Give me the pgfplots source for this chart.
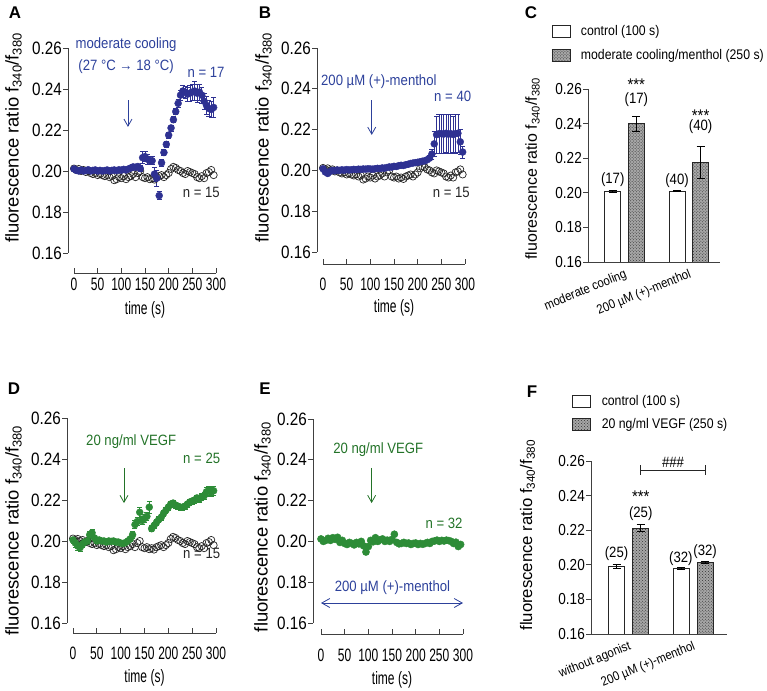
\documentclass[border=0pt]{standalone}
\usepackage{pgfplots}
\pgfplotsset{compat=1.18}
\usepackage{pgfplotstable}
\usepackage{fontspec}
\setmainfont{Liberation Sans}
\newfontfamily\fTick{Liberation Sans}[FakeStretch=0.85]
\newfontfamily\fX{Liberation Sans}[FakeStretch=0.67]
\newfontfamily\fAnn{Liberation Sans}[FakeStretch=0.88]
\usetikzlibrary{arrows.meta,patterns}
\definecolor{mblue}{RGB}{46,49,146}
\definecolor{tblue}{RGB}{45,65,155}
\definecolor{mgreen}{RGB}{45,140,55}
\definecolor{tgreen}{RGB}{35,115,40}
\newcommand\ftick{\fTick\fontsize{18}{20}\selectfont}
\newcommand\fxt{\fX\fontsize{18}{20}\selectfont}
\newcommand\flab{\fontsize{18.5}{20}\selectfont}
\newcommand\fann{\fAnn\fontsize{15}{17}\selectfont}
\newcommand\fbtick{\fTick\fontsize{16}{18}\selectfont}
\newcommand\fblab{\fontsize{16}{18}\selectfont}
\newcommand\fleg{\fAnn\fontsize{14}{16}\selectfont}
\newcommand\fcat{\fAnn\fontsize{13}{15}\selectfont}
\tikzset{ann/.style={font=\fann, inner sep=0pt}}

\pgfplotstableread{
t v
0 0.2012
5 0.2005
10 0.2010
15 0.2000
20 0.2005
25 0.1995
30 0.2000
35 0.1990
40 0.1985
45 0.1990
50 0.1980
55 0.1985
60 0.1980
65 0.1975
70 0.1980
75 0.1970
80 0.1975
85 0.1955
90 0.1960
95 0.1970
100 0.1965
105 0.1975
110 0.1960
115 0.1970
120 0.1975
125 0.1985
130 0.1970
135 0.1990
140 0.2000
145 0.1970
150 0.1965
155 0.1970
160 0.1960
165 0.1965
170 0.1958
175 0.1970
180 0.1975
185 0.1980
190 0.1970
195 0.1980
200 0.1990
205 0.2010
210 0.2020
215 0.2015
220 0.2005
225 0.2000
230 0.1990
235 0.1985
240 0.2000
245 0.1995
250 0.1990
255 0.1985
260 0.1970
265 0.1965
270 0.1975
275 0.1965
280 0.1990
285 0.1995
290 0.2005
295 0.1980
}\ctrl

\pgfplotstableread{
t v e
0 0.2010 0.0008
5 0.2003 0.0008
10 0.2000 0.0008
15 0.2005 0.0008
20 0.2000 0.0008
25 0.2002 0.0008
30 0.2006 0.0008
35 0.2000 0.0008
40 0.2003 0.0008
45 0.2005 0.0008
50 0.2000 0.0008
55 0.2003 0.0008
60 0.2000 0.0008
65 0.2002 0.0008
70 0.2005 0.0008
75 0.2000 0.0008
80 0.2003 0.0008
85 0.2005 0.0008
90 0.2002 0.0008
95 0.2006 0.0008
100 0.2004 0.0008
105 0.2008 0.0008
110 0.2005 0.0008
115 0.2010 0.0010
120 0.2015 0.0010
125 0.2020 0.0010
130 0.2018 0.0010
135 0.2022 0.0012
140 0.2012 0.0015
145 0.2065 0.0030
150 0.2070 0.0025
155 0.2058 0.0025
160 0.2050 0.0020
165 0.2050 0.0020
170 0.1985 0.0035
175 0.1965 0.0040
180 0.1880 0.0020
185 0.2040 0.0015
190 0.2090 0.0015
195 0.2130 0.0015
200 0.2175 0.0015
205 0.2210 0.0015
210 0.2250 0.0015
215 0.2290 0.0015
220 0.2330 0.0020
225 0.2370 0.0025
230 0.2390 0.0030
235 0.2385 0.0030
240 0.2375 0.0035
245 0.2380 0.0040
250 0.2385 0.0040
255 0.2390 0.0045
260 0.2380 0.0045
265 0.2385 0.0040
270 0.2370 0.0040
275 0.2340 0.0040
280 0.2320 0.0045
285 0.2305 0.0040
290 0.2300 0.0040
295 0.2310 0.0050
}\cool

\pgfplotstableread{
t v e
0 0.2008 0.0008
5 0.1992 0.0008
10 0.1985 0.0008
15 0.1995 0.0008
20 0.2000 0.0006
25 0.1998 0.0006
30 0.2002 0.0006
35 0.2000 0.0006
40 0.2003 0.0006
45 0.2001 0.0006
50 0.2004 0.0006
55 0.2002 0.0006
60 0.2003 0.0006
65 0.2005 0.0006
70 0.2004 0.0006
75 0.2006 0.0006
80 0.2005 0.0006
85 0.2007 0.0006
90 0.2006 0.0006
95 0.2008 0.0006
100 0.2007 0.0006
105 0.2006 0.0006
110 0.2008 0.0006
115 0.2010 0.0006
120 0.2009 0.0006
125 0.2012 0.0006
130 0.2011 0.0006
135 0.2014 0.0007
140 0.2017 0.0007
145 0.2016 0.0007
150 0.2020 0.0007
155 0.2019 0.0007
160 0.2023 0.0007
165 0.2025 0.0007
170 0.2024 0.0008
175 0.2028 0.0008
180 0.2030 0.0008
185 0.2034 0.0008
190 0.2036 0.0008
195 0.2038 0.0008
200 0.2040 0.0008
205 0.2042 0.0008
210 0.2045 0.0009
215 0.2047 0.0009
220 0.2052 0.0010
225 0.2060 0.0012
230 0.2080 0.0025
235 0.2130 0.0060
240 0.2175 0.0090
245 0.2180 0.0095
250 0.2180 0.0095
255 0.2178 0.0095
260 0.2182 0.0095
265 0.2178 0.0095
270 0.2180 0.0095
275 0.2176 0.0090
280 0.2180 0.0095
285 0.2182 0.0095
290 0.2140 0.0060
295 0.2090 0.0030
}\menth

\pgfplotstableread{
t v e
0 0.2005 0.0015
5 0.1990 0.0020
10 0.1975 0.0020
15 0.1968 0.0020
20 0.1985 0.0018
25 0.1995 0.0015
30 0.2000 0.0015
35 0.2030 0.0015
40 0.2040 0.0015
45 0.2015 0.0012
50 0.2000 0.0012
55 0.2005 0.0012
60 0.2000 0.0012
65 0.2000 0.0010
70 0.1995 0.0010
75 0.2000 0.0010
80 0.1998 0.0010
85 0.2000 0.0010
90 0.1995 0.0010
95 0.1995 0.0010
100 0.1990 0.0010
105 0.1988 0.0010
110 0.1992 0.0010
115 0.2000 0.0010
120 0.2010 0.0012
125 0.2030 0.0015
130 0.2080 0.0020
135 0.2095 0.0020
140 0.2140 0.0025
145 0.2100 0.0020
150 0.2110 0.0020
155 0.2120 0.0020
160 0.2165 0.0030
165 0.2060 0.0015
170 0.2075 0.0015
175 0.2090 0.0015
180 0.2105 0.0015
185 0.2115 0.0015
190 0.2135 0.0015
195 0.2150 0.0015
200 0.2165 0.0015
205 0.2180 0.0015
210 0.2185 0.0015
215 0.2175 0.0015
220 0.2170 0.0015
225 0.2165 0.0015
230 0.2165 0.0015
235 0.2170 0.0015
240 0.2180 0.0015
245 0.2190 0.0015
250 0.2195 0.0015
255 0.2200 0.0015
260 0.2210 0.0015
265 0.2205 0.0015
270 0.2215 0.0015
275 0.2220 0.0015
280 0.2240 0.0020
285 0.2245 0.0020
290 0.2240 0.0020
295 0.2245 0.0020
}\vegf

\pgfplotstableread{
t v
0 0.2012
5 0.2000
10 0.2005
15 0.2015
20 0.2005
25 0.2018
30 0.2010
35 0.2020
40 0.1995
45 0.2005
50 0.1990
55 0.1985
60 0.1995
65 0.1990
70 0.1983
75 0.1995
80 0.1988
85 0.2000
90 0.1978
95 0.1948
100 0.1975
105 0.2005
110 0.1998
115 0.2018
120 0.2000
125 0.2008
130 0.2012
135 0.2000
140 0.2006
145 0.2000
150 0.2010
155 0.2035
160 0.1995
165 0.1988
170 0.1990
175 0.1995
180 0.1990
185 0.1992
190 0.1985
195 0.1990
200 0.1992
205 0.1985
210 0.1990
215 0.1986
220 0.1990
225 0.1995
230 0.1990
235 0.2000
240 0.2002
245 0.2006
250 0.2000
255 0.2005
260 0.2002
265 0.2006
270 0.2004
275 0.2000
280 0.1990
285 0.1996
290 0.1975
295 0.1985
}\vegfm

\pgfplotsset{
  trace/.style={
    scale only axis, anchor=south west, clip=false,
    xmax=300, ymin=0.16, ymax=0.26,
    axis x line=none, axis y line=left,
    axis line style={-, line width=0.9bp, black!75},
    tick style={line width=0.9bp, black!75},
    tick align=outside, major tick length=5bp,
    ytick={0.16,0.18,0.20,0.22,0.24,0.26},
    yticklabels={0.16,0.18,0.20,0.22,0.24,0.26},
    yticklabel style={font=\ftick, inner sep=1bp},
    ylabel={fluorescence ratio f\textsubscript{340}/f\textsubscript{380}},
    ylabel style={font=\flab, anchor=center},
  },
  timeaxis/.style={
    scale only axis, anchor=south west, height=1bp,
    xmin=0, xmax=300, ymin=0, ymax=1,
    axis y line=none, axis x line=bottom,
    axis line style={-, line width=0.9bp, black!75},
    tick style={line width=0.9bp, black!75},
    tick align=inside, major tick length=5bp,
    xtick={0,50,100,150,200,250,300},
    xticklabels={0,50,100,150,200,250,300},
    xticklabel style={font=\fxt, inner sep=0pt, anchor=north, yshift=-#1},
    xlabel={time (s)},
    xlabel style={font=\fxt, anchor=center, at={(rel axis cs:0.5,0)}},
  },
  ctrlst/.style={only marks, mark=o, mark size=3.6bp, mark options={fill=white, draw=black!85, line width=0.7bp}},
  errst/.style={
    error bars/y dir=both, error bars/y explicit,
    error bars/error bar style={#1, line width=0.7bp},
    error bars/error mark options={rotate=90, mark size=2.5bp, #1, line width=0.7bp}},
  bluest/.style={only marks, mark=*, mark size=3.5bp, color=mblue, errst=mblue},
  greenst/.style={only marks, mark=*, mark size=3.5bp, color=mgreen, errst=mgreen},
  barerr/.style={
    error bars/y dir=both, error bars/y explicit,
    error bars/error bar style={black, line width=0.7bp},
    error bars/error mark options={rotate=90, mark size=4bp, black, line width=0.7bp}},
  bars/.style={
    scale only axis, anchor=south west, clip mode=individual,
    ymin=0.16, ymax=0.26,
    axis lines=left,
    axis line style={-, line width=0.9bp, black!75},
    tick style={line width=0.9bp, black!75},
    tick align=outside, major tick length=5bp,
    ytick={0.16,0.18,0.20,0.22,0.24,0.26},
    yticklabels={0.16,0.18,0.20,0.22,0.24,0.26},
    xtick={1,2}, xtick style={draw=none},
    xticklabel style={font=\fcat, rotate=22, anchor=north east, inner sep=1bp},
    yticklabel style={font=\fbtick, inner sep=1bp},
    ylabel={fluorescence ratio f\textsubscript{340}/f\textsubscript{380}},
    ylabel style={font=\fblab, anchor=center},
    ybar, bar width=16bp,
    legend style={draw=none, fill=none, anchor=north west, font=\fleg, row sep=8bp, cells={anchor=west}},
    legend image code/.code={\draw[##1] (0bp,-6bp) rectangle (18bp,6bp); \node[draw=none, fill=none, inner sep=0pt, outer sep=0pt, minimum size=0pt] at (27bp,0bp) {};},
  },
  whitebar/.style={fill=white, draw=black!85, line width=0.7bp, barerr},
  hatchbar/.style={fill=gray!70, draw=black!85, line width=0.7bp,
    postaction={pattern=crosshatch dots, pattern color=black!80}, barerr},
}

\begin{document}
\begin{tikzpicture}
\useasboundingbox (0,0) rectangle (767bp,691bp);

% ---------------- A
\begin{axis}[trace, at={(68bp,438bp)}, width=148bp, height=205bp, xmin=-12.68,
  ylabel style={at={(rel axis cs:-0.368,0.561)}}]
\addplot[ctrlst] table[x=t,y=v] {\ctrl};
\addplot[bluest] table[x=t,y=v,y error=e] {\cool};
\node[ann, text=tblue] at (axis cs:110,0.2615) {moderate cooling};
\node[ann, text=tblue] at (axis cs:110,0.2507) {(27 °C → 18 °C)};
\node[ann, text=tblue] at (axis cs:279,0.2483) {n = 17};
\node[ann, text=black!85] at (axis cs:269,0.1893) {n = 15};
\draw[tblue, line width=0.8bp, -{Straight Barb[length=7bp,width=8bp]}] (axis cs:114,0.2346) -- (axis cs:114,0.2215);
\end{axis}
\begin{axis}[timeaxis=5bp, at={(74bp,418bp)}, width=142bp, xlabel style={yshift=-37bp}]
\end{axis}

% ---------------- B
\begin{axis}[trace, at={(317bp,439bp)}, width=148bp, height=204bp, xmin=-12.68,
  ylabel style={at={(rel axis cs:-0.361,0.561)}}]
\addplot[ctrlst] table[x=t,y=v] {\ctrl};
\addplot[bluest] table[x=t,y=v,y error=e] {\menth};
\node[ann, text=tblue] at (axis cs:118,0.2433) {200 µM (+)-menthol};
\node[ann, text=tblue] at (axis cs:274,0.2365) {n = 40};
\node[ann, text=black!85] at (axis cs:271,0.1894) {n = 15};
\draw[tblue, line width=0.8bp, -{Straight Barb[length=7bp,width=8bp]}] (axis cs:103,0.2345) -- (axis cs:103,0.2174);
\end{axis}
\begin{axis}[timeaxis=14bp, at={(323bp,427bp)}, width=142bp, xlabel style={yshift=-44bp}]
\end{axis}

% ---------------- C
\begin{axis}[bars, at={(588bp,429bp)}, width=132bp, height=173bp,
  xmin=0.432, xmax=2.485,
  xticklabels={moderate cooling,200 µM (+)-menthol},
  ylabel style={at={(rel axis cs:-0.42,0.54)}},
  legend style={at={(rel axis cs:-0.30,1.39)}}]
\addplot[whitebar, bar shift=-11.8bp] coordinates {(1,0.2007) +- (0,0.0005) (2,0.2011) +- (0,0.0003)};
\addplot[hatchbar, bar shift=11.8bp] coordinates {(1,0.2399) +- (0,0.0042) (2,0.2177) +- (0,0.0092)};
\legend{control (100 s), moderate cooling/menthol (250 s)}
\node[ann] at (axis cs:0.8165,0.2074) {(17)};
\node[ann] at (axis cs:1.1835,0.2536) {(17)};
\node[ann, font=\fann\fontsize{17}{17}\selectfont] at (axis cs:1.1835,0.2625) {***};
\node[ann] at (axis cs:1.8165,0.2068) {(40)};
\node[ann] at (axis cs:2.1835,0.2380) {(40)};
\node[ann, font=\fann\fontsize{17}{17}\selectfont] at (axis cs:2.1835,0.2445) {***};
\end{axis}

% ---------------- D
\begin{axis}[trace, at={(67bp,68bp)}, width=149bp, height=205bp, xmin=-12.59,
  ylabel style={at={(rel axis cs:-0.359,0.451)}}]
\addplot[ctrlst] table[x=t,y=v] {\ctrl};
\addplot[greenst] table[x=t,y=v,y error=e] {\vegf};
\node[ann, text=tgreen] at (axis cs:122,0.2483) {20 ng/ml VEGF};
\node[ann, text=tgreen] at (axis cs:270,0.2405) {n = 25};
\node[ann, text=black!85] at (axis cs:270,0.1941) {n = 15};
\draw[tgreen, line width=0.8bp, -{Straight Barb[length=7bp,width=8bp]}] (axis cs:107,0.2356) -- (axis cs:107,0.2185);
\end{axis}
\begin{axis}[timeaxis=13.5bp, at={(73bp,58bp)}, width=143bp, xlabel style={yshift=-45bp}]
\end{axis}

% ---------------- E
\begin{axis}[trace, at={(313bp,68bp)}, width=150bp, height=204bp, xmin=-16.9,
  ylabel style={at={(rel axis cs:-0.337,0.47)}}]
\addplot[only marks, mark=*, mark size=3.6bp, color=mgreen] table[x=t,y=v] {\vegfm};
\node[ann, text=tgreen] at (axis cs:121,0.2448) {20 ng/ml VEGF};
\node[ann, text=tgreen] at (axis cs:260,0.2090) {n = 32};
\node[ann, text=tblue] at (axis cs:151,0.1772) {200 µM (+)-menthol};
\draw[tgreen, line width=0.8bp, -{Straight Barb[length=7bp,width=8bp]}] (axis cs:107,0.2360) -- (axis cs:107,0.2188);
\draw[tblue, line width=0.8bp, {Straight Barb[length=8bp,width=9bp]}-{Straight Barb[length=8bp,width=9bp]}] (axis cs:0,0.1698) -- (axis cs:300,0.1698);
\end{axis}
\begin{axis}[timeaxis=14.5bp, at={(321bp,57bp)}, width=142bp, xlabel style={yshift=-46bp}]
\end{axis}

% ---------------- F
\begin{axis}[bars, at={(591bp,57bp)}, width=136bp, height=173bp,
  xmin=0.416, xmax=2.528,
  xticklabels={without agonist,200 µM (+)-menthol},
  ylabel style={at={(rel axis cs:-0.467,0.571)}, font=\fontsize{16.8}{18}\selectfont},
  legend style={at={(rel axis cs:-0.16,1.405)}}]
\addplot[whitebar, bar shift=-12.1bp] coordinates {(1,0.1990) +- (0,0.0012) (2,0.1979) +- (0,0.0006)};
\addplot[hatchbar, bar shift=12.1bp] coordinates {(1,0.2212) +- (0,0.0021) (2,0.2012) +- (0,0.0006)};
\legend{control (100 s), 20 ng/ml VEGF (250 s)}
\node[ann] at (axis cs:0.812,0.2066) {(25)};
\node[ann] at (axis cs:1.188,0.2297) {(25)};
\node[ann, font=\fann\fontsize{17}{17}\selectfont] at (axis cs:1.188,0.2395) {***};
\node[ann] at (axis cs:1.812,0.2037) {(32)};
\node[ann] at (axis cs:2.188,0.2075) {(32)};
\node[ann] at (axis cs:1.69,0.2592) {\#\#\#};
\draw[black!85, line width=0.8bp] (axis cs:1.19,0.2546) -- (axis cs:2.19,0.2546);
\draw[black!85, line width=0.8bp] (axis cs:1.19,0.2575) -- (axis cs:1.19,0.2517);
\draw[black!85, line width=0.8bp] (axis cs:2.19,0.2575) -- (axis cs:2.19,0.2517);
\end{axis}

% panel letters
\node[font=\bfseries\fontsize{17}{18}\selectfont] at (15bp,678bp) {A};
\node[font=\bfseries\fontsize{17}{18}\selectfont] at (265bp,678bp) {B};
\node[font=\bfseries\fontsize{17}{18}\selectfont] at (531bp,678bp) {C};
\node[font=\bfseries\fontsize{17}{18}\selectfont] at (14bp,302bp) {D};
\node[font=\bfseries\fontsize{17}{18}\selectfont] at (265bp,302bp) {E};
\node[font=\bfseries\fontsize{17}{18}\selectfont] at (532bp,299bp) {F};
\end{tikzpicture}
\end{document}
